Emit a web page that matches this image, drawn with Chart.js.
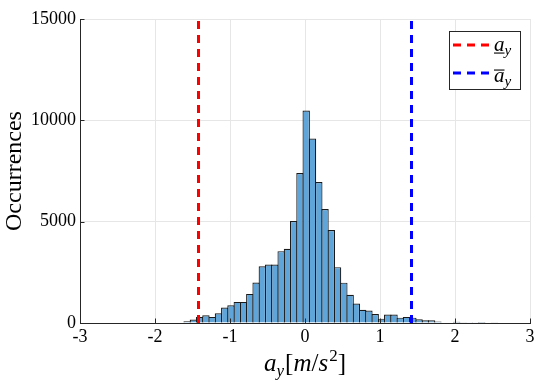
<!DOCTYPE html>
<html lang="en">
<head>
<meta charset="UTF-8" />
<title>Histogram a_y</title>
<style>
  html, body { margin: 0; padding: 0; background: #fff; }
  #wrap { width: 550px; height: 384px; position: relative; }
</style>
</head>
<body>
<div id="wrap"><canvas id="c"></canvas></div>
<script src="https://cdn.jsdelivr.net/npm/chart.js"></script>
<script>
// bin centres (m/s^2) and counts
const binCenters = [
  -1.572, -1.488, -1.405, -1.321, -1.238, -1.154, -1.070, -0.987, -0.903, -0.820,
  -0.736, -0.652, -0.569, -0.485, -0.402, -0.318, -0.234, -0.151, -0.067, 0.016,
  0.100, 0.184, 0.267, 0.351, 0.434, 0.518, 0.602, 0.685, 0.769, 0.852,
  0.936, 1.020, 1.103, 1.187, 1.270, 1.354, 1.438, 1.521, 1.605, 1.688,
  1.772, 1.856, 1.939, 2.023, 2.106, 2.190, 2.274, 2.357, 2.441, 2.524
];
const counts = [
  85, 170, 300, 380, 300, 480, 760, 875, 1040, 1040,
  1435, 2000, 2800, 2890, 2890, 3545, 3660, 5030, 7400, 10485,
  9100, 6960, 5620, 4585, 2755, 1990, 1390, 965, 650, 620,
  445, 215, 420, 420, 265, 300, 265, 180, 130, 130,
  70, 20, 20, 60, 15, 10, 10, 5, 20, 15
];
const lowerLimit = -1.42;   // underline a_y
const upperLimit = 1.42;    // overline a_y
const xTicks = [-3, -2, -1, 0, 1, 2, 3];
const yTicks = [0, 5000, 10000, 15000];

const SERIF = "'Liberation Serif', 'DejaVu Serif', serif";
const AXIS = '#262626';

// little helper: draw pieces of math text one after the other
function drawPieces(ctx, pieces, x, y) {
  let cx = x;
  for (const p of pieces) {
    ctx.font = p.f;
    ctx.fillText(p.t, cx, y + (p.dy || 0));
    const w = ctx.measureText(p.t).width;
    if (p.line) {
      ctx.fillRect(cx + p.line.x0, y + p.line.dy, w + p.line.dw, 1.1);
    }
    cx += w + (p.kern || 0);
  }
  return cx - x;
}
function piecesWidth(ctx, pieces) {
  let w = 0;
  for (const p of pieces) { ctx.font = p.f; w += ctx.measureText(p.t).width + (p.kern || 0); }
  return w;
}

const extras = {
  id: 'extras',
  afterDraw(chart) {
    const ctx = chart.ctx;
    const xs = chart.scales.x, ys = chart.scales.y;
    const a = chart.chartArea;
    ctx.save();
    // inward ticks
    ctx.strokeStyle = AXIS;
    ctx.lineWidth = 1;
    ctx.beginPath();
    xTicks.forEach(v => {
      const px = Math.round(xs.getPixelForValue(v)) + 0.5;
      ctx.moveTo(px, a.bottom); ctx.lineTo(px, a.bottom - 4.5);
    });
    yTicks.forEach(v => {
      const py = Math.round(ys.getPixelForValue(v)) + 0.5;
      ctx.moveTo(a.left, py); ctx.lineTo(a.left + 4.5, py);
    });
    ctx.stroke();

    // x axis title  a_y[m/s^2]
    ctx.fillStyle = '#000';
    ctx.textBaseline = 'alphabetic';
    const it = 'italic 25px ' + SERIF, up = '25px ' + SERIF;
    const itS = 'italic 17px ' + SERIF, upS = '17px ' + SERIF;
    const title = [
      { t: 'a', f: it },
      { t: 'y', f: itS, dy: 5, kern: 1 },
      { t: '[', f: up },
      { t: 'm', f: it },
      { t: '/', f: up },
      { t: 's', f: it, kern: 1 },
      { t: '2', f: upS, dy: -10 },
      { t: ']', f: up }
    ];
    const tw = piecesWidth(ctx, title);
    drawPieces(ctx, title, (a.left + a.right) / 2 - tw / 2, 371);

    // legend
    const bx = 449.5, by = 31.5, bw = 71, bh = 58;
    ctx.fillStyle = '#fff';
    ctx.fillRect(bx, by, bw, bh);
    ctx.strokeStyle = AXIS;
    ctx.strokeRect(bx, by, bw, bh);
    const rows = [
      { color: '#ff0000', y: 45, under: true },
      { color: '#0000ff', y: 73, under: false }
    ];
    rows.forEach(r => {
      ctx.strokeStyle = r.color;
      ctx.lineWidth = 3;
      ctx.setLineDash([8, 6]);
      ctx.beginPath();
      ctx.moveTo(453, r.y); ctx.lineTo(492, r.y);
      ctx.stroke();
      ctx.setLineDash([]);
      ctx.fillStyle = '#000';
      const base = r.under ? 51 : 82;
      const line = r.under ? { x0: 0, dy: 1.5, dw: 0 } : { x0: 0, dy: -12.5, dw: 0 };
      drawPieces(ctx, [
        { t: 'a', f: 'italic 21px ' + SERIF, line: line },
        { t: 'y', f: 'italic 15px ' + SERIF, dy: 4 }
      ], 494, base);
    });
    ctx.restore();
  }
};

const barData = binCenters.map((x, i) => ({ x: x, y: counts[i] }));

new Chart(document.getElementById('c'), {
  type: 'bar',
  data: {
    datasets: [
      {
        type: 'line',
        label: 'lower',
        data: [{ x: lowerLimit, y: 0 }, { x: lowerLimit, y: 15000 }],
        borderColor: '#ff0000',
        borderWidth: 3,
        borderDash: [8, 6],
        pointRadius: 0,
        order: 0
      },
      {
        type: 'line',
        label: 'upper',
        data: [{ x: upperLimit, y: 0 }, { x: upperLimit, y: 15000 }],
        borderColor: '#0000ff',
        borderWidth: 3,
        borderDash: [8, 6],
        pointRadius: 0,
        order: 0
      },
      {
        label: 'Occurrences',
        data: barData,
        backgroundColor: '#60a5da',
        borderColor: '#1a1a1a',
        borderWidth: 1.2,
        barPercentage: 1.19,
        categoryPercentage: 1,
        inflateAmount: 0,
        order: 1
      }
    ]
  },
  options: {
    responsive: true,
    maintainAspectRatio: false,
    animation: false,
    layout: { padding: { top: 19, right: 20, left: 0, bottom: 0 } },
    plugins: { legend: { display: false }, tooltip: { enabled: false } },
    scales: {
      x: {
        type: 'linear',
        offset: false,
        min: -3, max: 3,
        afterBuildTicks: s => { s.ticks = xTicks.map(v => ({ value: v })); },
        afterFit: s => { s.height = 61; },
        ticks: {
          padding: 3,
          color: '#000',
          font: { family: SERIF, size: 18 },
          callback: v => String(v),
          maxRotation: 0
        },
        grid: { color: '#e6e6e6', drawTicks: false, offset: false },
        border: { color: AXIS, width: 1 }
      },
      y: {
        min: 0, max: 15000,
        afterBuildTicks: s => { s.ticks = yTicks.map(v => ({ value: v })); },
        afterFit: s => { s.width = 80; },
        ticks: {
          padding: 4,
          color: '#000',
          font: { family: SERIF, size: 18 },
          callback: v => String(v)
        },
        grid: { color: '#e6e6e6', drawTicks: false },
        border: { color: AXIS, width: 1 },
        title: {
          display: true,
          text: 'Occurrences',
          color: '#000',
          font: { family: SERIF, size: 24 },
          padding: { top: 0, bottom: 0 }
        }
      }
    }
  },
  plugins: [extras]
});
</script>
</body>
</html>
